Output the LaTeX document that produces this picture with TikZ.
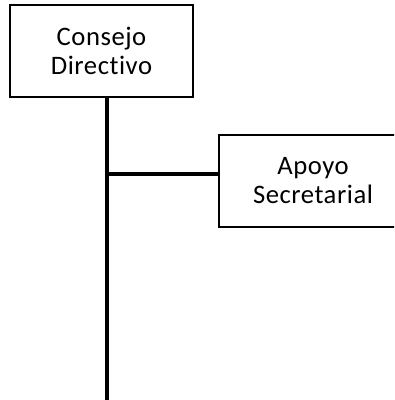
\documentclass[tikz,border=0pt]{standalone}
\usepackage{fontspec}
\setmainfont[Ligatures=NoCommon,LetterSpace=2]{Carlito}
\usepackage{tikz}
\usetikzlibrary{positioning}

\tikzset{
  unitbox/.style={draw, line width=1.5pt, fill=white, minimum width=137pt, minimum height=69pt,
    align=center, inner sep=0pt, font=\fontsize{20}{22}\selectfont},
  orgline/.style={line width=2.6pt}
}

\begin{document}
\begin{tikzpicture}[x=0.75pt,y=0.75pt,yscale=-1,xscale=1]
%set diagram frame: 394 wide, 400 high
\useasboundingbox (0,0) rectangle (394,400);
\clip (0,0) rectangle (394,400);

%Shape: Box [id:consejo]
\node [unitbox] (consejo) at (101.5,51) {Consejo\\Directivo};
%Shape: Box [id:apoyo]
\node [unitbox, minimum width=150pt] (apoyo) at (319,180.5) {Apoyo\hspace*{9pt}\\Secretarial\hspace*{9pt}};

% Points on the trunk
\coordinate (rama) at (107,174);
\coordinate (fin) at (107,400);

%Straight Lines
\draw [orgline] (consejo.south -| fin) -- (fin);
\draw [orgline] (rama) -- (rama -| apoyo.west);

\end{tikzpicture}
\end{document}
